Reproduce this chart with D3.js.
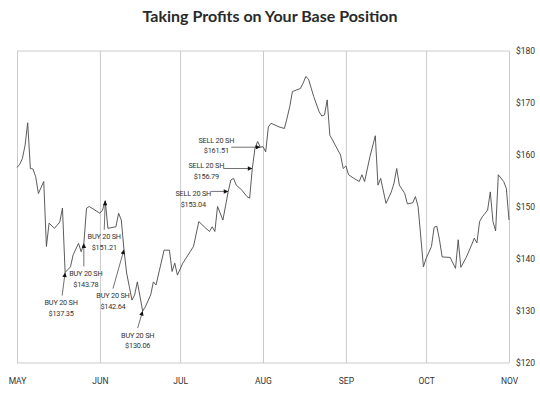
<!DOCTYPE html>
<html>
<head>
<meta charset="utf-8">
<script src="https://cdn.jsdelivr.net/npm/d3@7"></script>
<style>
  body { margin: 0; background: #fff; }
  svg { display: block; }
  .note { font-family: "Liberation Sans Narrow", "Roboto", sans-serif; font-size: 7.3px; fill: #333; letter-spacing: -0.2px; }
</style>
</head>
<body>
<svg></svg>
<script>
// daily closes
const dates = [
  "May 1", "May 2", "May 3", "May 4", "May 5", "May 6", "May 7", "May 8", "May 9", "May 11",
  "May 12", "May 13", "May 15", "May 17", "May 18", "May 19", "May 21", "May 22", "May 24", "May 25",
  "May 26", "May 27", "May 28", "Jun 1", "Jun 2", "Jun 3", "Jun 4", "Jun 7", "Jun 8", "Jun 9",
  "Jun 10", "Jun 11", "Jun 12", "Jun 13", "Jun 14", "Jun 15", "Jun 17", "Jun 18", "Jun 20", "Jun 21",
  "Jun 22", "Jun 25", "Jun 27", "Jun 28", "Jun 29", "Jun 30", "Jul 2", "Jul 6", "Jul 8", "Jul 10",
  "Jul 12", "Jul 13", "Jul 14", "Jul 15", "Jul 17", "Jul 19", "Jul 20", "Jul 21", "Jul 22", "Jul 24",
  "Jul 26", "Jul 27", "Jul 28", "Jul 29", "Jul 30", "Jul 31", "Aug 1", "Aug 2", "Aug 3", "Aug 4",
  "Aug 7", "Aug 9", "Aug 10", "Aug 11", "Aug 12", "Aug 15", "Aug 16", "Aug 17", "Aug 18", "Aug 20",
  "Aug 22", "Aug 23", "Aug 24", "Aug 25", "Aug 26", "Aug 27", "Aug 28", "Aug 30", "Aug 31", "Sep 1",
  "Sep 2", "Sep 4", "Sep 6", "Sep 7", "Sep 8", "Sep 10", "Sep 12", "Sep 13", "Sep 14", "Sep 16",
  "Sep 18", "Sep 19", "Sep 20", "Sep 21", "Sep 23", "Sep 24", "Sep 26", "Sep 27", "Sep 28", "Sep 30",
  "Oct 1", "Oct 3", "Oct 4", "Oct 5", "Oct 6", "Oct 7", "Oct 10", "Oct 12", "Oct 13", "Oct 14",
  "Oct 16", "Oct 18", "Oct 19", "Oct 20", "Oct 21", "Oct 22", "Oct 24", "Oct 25", "Oct 26", "Oct 27",
  "Oct 28", "Oct 30", "Oct 31", "Nov 1",
];
const prices = [
  157.6, 158.2, 159.3, 161.8, 166.2, 157.4, 157.3, 155.8, 152.6, 154.9,
  142.4, 146.9, 145.9, 147.1, 149.8, 137.4, 138.5, 140.8, 143.0, 141.4,
  143.0, 149.75, 150.1, 148.8, 149.4, 151.2, 145.9, 146.2, 148.8, 147.5,
  141.8, 137.3, 134.7, 132.1, 133.1, 135.6, 130.0, 130.8, 133.1, 135.6,
  135.0, 141.7, 141.7, 137.6, 139.2, 136.9, 139.2, 142.4, 147.2, 146.2,
  145.3, 146.2, 145.3, 150.1, 147.5, 153.0, 155.2, 155.5, 154.2, 153.3,
  152.0, 151.7, 157.4, 161.3, 162.6, 161.5, 161.6, 160.6, 165.4, 166.1,
  165.4, 165.1, 167.1, 169.3, 172.2, 172.8, 173.8, 175.1, 174.6, 171.2,
  168.3, 167.5, 167.7, 170.6, 163.8, 162.9, 161.9, 160.0, 157.4, 157.9,
  156.2, 155.5, 154.9, 156.2, 154.9, 159.7, 163.7, 154.2, 155.5, 150.7,
  152.9, 154.6, 157.4, 154.2, 152.6, 150.6, 150.8, 152.0, 150.1, 138.5,
  140.1, 142.4, 146.1, 146.3, 143.7, 140.4, 140.3, 138.2, 143.7, 138.4,
  140.3, 142.7, 144.0, 143.1, 147.2, 148.1, 149.4, 152.9, 147.2, 145.4,
  156.2, 154.9, 153.6, 147.5,
];
const priceTicks = [120, 130, 140, 150, 160, 170, 180];

const buyDates = ["May 19", "May 26", "Jun 3", "Jun 10", "Jun 17"];
const buyLabels = ["$137.35", "$143.78", "$151.21", "$142.64", "$130.06"];
const sellDates = ["Jul 19", "Jul 28", "Jul 31"];
const sellLabels = ["$153.04", "$156.79", "$161.51"];

// label layout: text centre offset and arrow tail offset from the arrow tip
const buyLayout = [
  { tx: -4, ty: 30, ax: -3, ay: 23 },
  { tx: 2, ty: 30, ax: 0, ay: 23 },
  { tx: -1, ty: 36, ax: -1, ay: 29 },
  { tx: -11, ty: 46, ax: -11, ay: 39 },
  { tx: -5, ty: 24, ax: -5, ay: 17 },
];
const sellLayout = [
  { tx: -35, ty: 2, ax: -17 },
  { tx: -46, ty: -3, ax: -29 },
  { tx: -44, ty: -7, ax: -29 },
];

const width = 540;
const height = 393;
const plotLeft = 17;
const plotRight = 509;
const plotTop = 51;
const plotBottom = 363;
const svg = d3.select("svg");
const parseDate = d3.timeParse("%b %d");
let data = [];
let xScale;
let yScale;

const drawCanvas = () => {
  svg.attr("width", width).attr("height", height);
  svg
    .append("text")
    .attr("x", 270)
    .attr("y", 22)
    .attr("text-anchor", "middle")
    .style("font-family", "Lato, 'Open Sans', sans-serif")
    .style("font-weight", 700)
    .style("font-size", "16px")
    .style("fill", "#2a2a2a")
    .text("Taking Profits on Your Base Position");

  const defs = svg.append("defs");
  defs
    .append("marker")
    .attr("id", "head")
    .attr("viewBox", "0 0 10 10")
    .attr("refX", 10)
    .attr("refY", 5)
    .attr("markerWidth", 5.5)
    .attr("markerHeight", 4.5)
    .attr("markerUnits", "userSpaceOnUse")
    .attr("orient", "auto")
    .append("path")
    .attr("d", "M0,0L10,5L0,10Z")
    .attr("fill", "#111");
};

const generateScales = () => {
  xScale = d3
    .scaleTime()
    .domain([parseDate("May 1"), parseDate("Nov 1")])
    .range([plotLeft, plotRight]);

  yScale = d3.scaleLinear().domain([120, 180]).range([plotBottom, plotTop]);
};

const generateAxis = () => {
  // month grid lines
  const grid = svg
    .append("g")
    .attr("transform", "translate(0," + plotBottom + ")")
    .call(
      d3
        .axisBottom(xScale)
        .ticks(d3.timeMonth.every(1))
        .tickSize(-(plotBottom - plotTop))
        .tickFormat("")
    );
  grid.select(".domain").remove();
  grid.selectAll("line").attr("stroke", "#cbcbcb");

  svg
    .selectAll(".hline")
    .data([plotTop, plotBottom])
    .enter()
    .append("line")
    .attr("x1", plotLeft)
    .attr("x2", plotRight)
    .attr("y1", (d) => d)
    .attr("y2", (d) => d)
    .attr("stroke", "#cbcbcb");

  const xAxis = svg
    .append("g")
    .attr("transform", "translate(0," + plotBottom + ")")
    .call(
      d3
        .axisBottom(xScale)
        .ticks(d3.timeMonth.every(1))
        .tickSize(0)
        .tickPadding(15)
        .tickFormat((d) => d3.timeFormat("%b")(d).toUpperCase())
    );
  xAxis.select(".domain").remove();
  xAxis
    .selectAll("text")
    .style("font-family", "'Liberation Sans Narrow', Roboto, sans-serif")
    .style("font-size", "8.5px")
    .style("fill", "#333");

  const yAxis = svg
    .append("g")
    .attr("transform", "translate(" + plotRight + ",0)")
    .call(
      d3
        .axisRight(yScale)
        .tickValues(priceTicks)
        .tickSize(0)
        .tickPadding(7)
        .tickFormat((d) => "$" + d)
    );
  yAxis.select(".domain").remove();
  yAxis
    .selectAll("text")
    .style("font-family", "'Liberation Sans Narrow', Roboto, sans-serif")
    .style("font-size", "8.5px")
    .style("fill", "#333");
};

const drawLine = () => {
  const line = d3
    .line()
    .x((d) => xScale(d.date))
    .y((d) => yScale(d.price));

  svg
    .append("path")
    .datum(data)
    .attr("d", line)
    .attr("fill", "none")
    .attr("stroke", "#4a4a4a")
    .attr("stroke-width", 0.9)
    .attr("stroke-linejoin", "round");
};

const pointAt = (label) => {
  const item = data.find((d) => +d.date === +parseDate(label));
  return [xScale(item.date), yScale(item.price)];
};

const drawNotes = () => {
  buyDates.forEach((day, i) => {
    const [px, py] = pointAt(day);
    const lay = buyLayout[i];
    svg
      .append("line")
      .attr("x1", px + lay.ax)
      .attr("y1", py + lay.ay)
      .attr("x2", px)
      .attr("y2", py)
      .attr("stroke", "#333")
      .attr("stroke-width", 0.7)
      .attr("marker-end", "url(#head)");
    const t = svg
      .append("text")
      .attr("class", "note")
      .attr("text-anchor", "middle")
      .attr("x", px + lay.tx)
      .attr("y", py + lay.ty);
    t.append("tspan").attr("x", px + lay.tx).attr("dy", "0.35em").text("BUY 20 SH");
    t.append("tspan").attr("x", px + lay.tx).attr("dy", "1.45em").text(buyLabels[i]);
  });

  sellDates.forEach((day, i) => {
    const [px, py] = pointAt(day);
    const lay = sellLayout[i];
    svg
      .append("line")
      .attr("x1", px + lay.ax)
      .attr("y1", py)
      .attr("x2", px)
      .attr("y2", py)
      .attr("stroke", "#333")
      .attr("stroke-width", 0.7)
      .attr("marker-end", "url(#head)");
    const t = svg
      .append("text")
      .attr("class", "note")
      .attr("text-anchor", "middle")
      .attr("x", px + lay.tx)
      .attr("y", py + lay.ty);
    t.append("tspan").attr("x", px + lay.tx).attr("dy", "0.35em").text("SELL 20 SH");
    t.append("tspan").attr("x", px + lay.tx).attr("dy", "1.45em").text(sellLabels[i]);
  });
};

data = dates.map((d, i) => ({ date: parseDate(d), price: prices[i] }));
drawCanvas();
generateScales();
generateAxis();
drawLine();
drawNotes();
</script>
</body>
</html>
